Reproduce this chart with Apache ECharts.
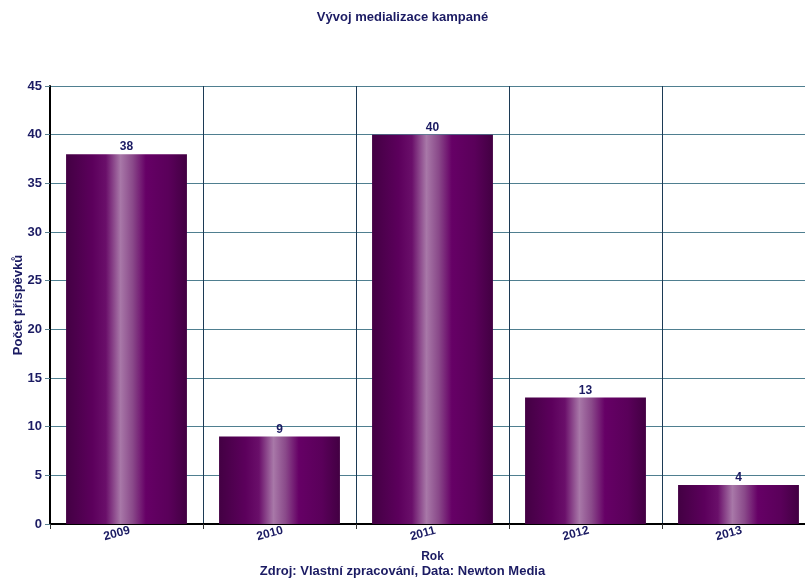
<!DOCTYPE html>
<html>
<head>
<meta charset="utf-8">
<script src="https://cdn.jsdelivr.net/npm/echarts@6.0.0/dist/echarts.min.js"></script>
<style>
  html, body { margin: 0; padding: 0; background: #fff; }
  #chart { width: 805px; height: 578px; }
</style>
</head>
<body>
<div id="chart"></div>
<script>
    // data
    const years = ['2009', '2010', '2011', '2012', '2013'];
    const counts = [38, 9, 40, 13, 4];
    const yTicks = { min: 0, max: 45, interval: 5 };

    const navy = '#1b1b63';
    const font = 'Liberation Sans, Arial, sans-serif';

    const barFill = new echarts.graphic.LinearGradient(0, 0, 1, 0, [
        { offset: 0, color: '#430043' },
        { offset: 0.22, color: '#5c005c' },
        { offset: 0.33, color: '#6a0f6a' },
        { offset: 0.45, color: '#a878a8' },
        { offset: 0.55, color: '#8a4a8a' },
        { offset: 0.66, color: '#660066' },
        { offset: 0.85, color: '#5a005a' },
        { offset: 1, color: '#420042' }
    ]);

    const chart = echarts.init(document.getElementById('chart'));
    chart.setOption({
        animation: false,
        title: [{
            text: 'Vývoj medializace kampané',
            left: 'center',
            top: 11,
            padding: 0,
            textStyle: { color: navy, fontSize: 13, fontWeight: 'bold', fontFamily: font }
        }, {
            text: 'Zdroj: Vlastní zpracování, Data: Newton Media',
            left: 'center',
            top: 565,
            padding: 0,
            textStyle: { color: navy, fontSize: 13, fontWeight: 'bold', fontFamily: font }
        }],
        // plot runs past the right edge of the canvas, as in the original
        grid: { left: 50, right: -10, top: 86, bottom: 54, outerBoundsMode: 'none' },
        xAxis: {
            type: 'category',
            data: years,
            name: 'Rok',
            nameLocation: 'middle',
            nameGap: 27,
            nameMoveOverlap: false,
            nameTextStyle: { color: navy, fontSize: 12, fontWeight: 'bold', fontFamily: font },
            axisLine: { lineStyle: { color: '#000', width: 2 } },
            axisTick: { show: true, length: 5, lineStyle: { color: '#333' } },
            axisLabel: {
                rotate: 15,
                align: 'center',
                padding: [0, 20, 0, 0],
                margin: 7,
                color: navy,
                fontSize: 12,
                fontWeight: 'bold',
                fontFamily: font
            },
            splitLine: { show: true, lineStyle: { color: '#1c3a55', width: 1 } }
        },
        yAxis: {
            type: 'value',
            min: yTicks.min,
            max: yTicks.max,
            interval: yTicks.interval,
            name: 'Počet příspěvků',
            nameLocation: 'middle',
            nameGap: 25,
            nameMoveOverlap: false,
            nameTextStyle: { color: navy, fontSize: 13, fontWeight: 'bold', fontFamily: font },
            axisLine: { show: true, lineStyle: { color: '#000', width: 2 } },
            axisTick: { show: true, length: 5, lineStyle: { color: '#5a8090' } },
            axisLabel: { color: navy, fontSize: 13, fontWeight: 'bold', fontFamily: font, margin: 8 },
            splitLine: { lineStyle: { color: '#4f7f90', width: 1 } }
        },
        series: [{
            type: 'bar',
            data: counts,
            barCategoryGap: '21%',
            itemStyle: { color: barFill },
            label: {
                show: true,
                position: 'top',
                distance: 1,
                color: navy,
                fontSize: 12,
                fontWeight: 'bold',
                fontFamily: font
            }
        }]
    });
</script>
</body>
</html>
